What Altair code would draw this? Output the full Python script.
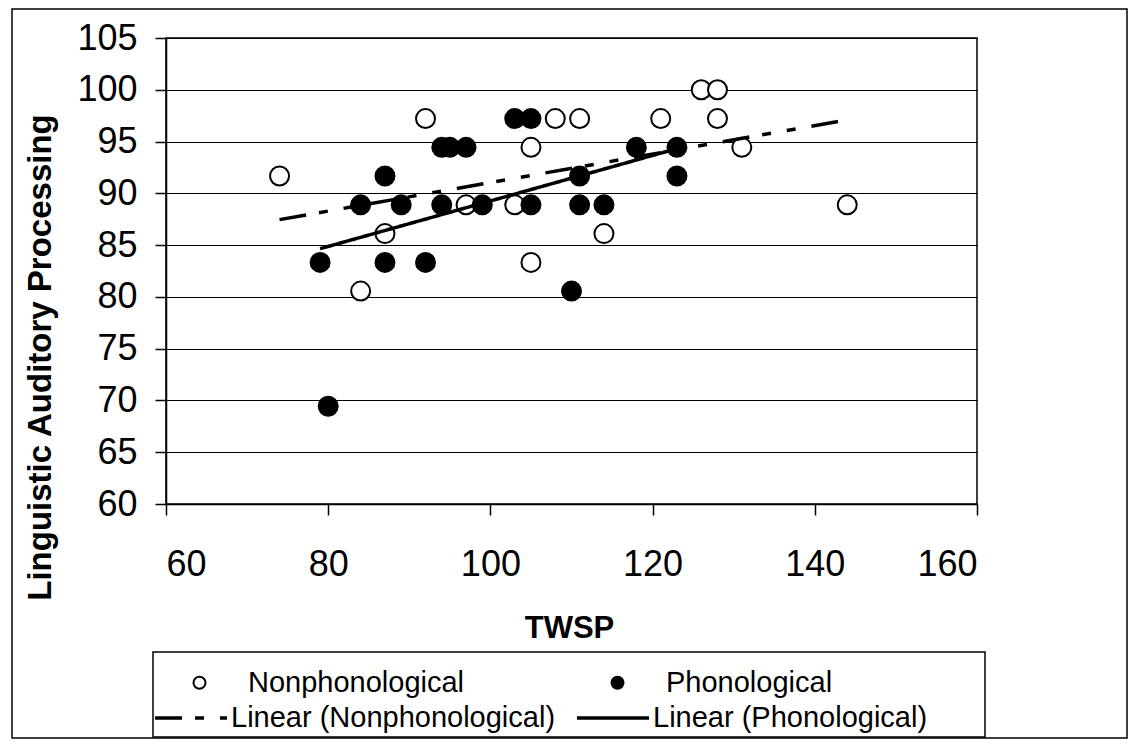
import altair as alt
import pandas as pd

# ---- data ----
nonphon_x = [74, 92, 108, 111, 105, 97, 103, 87, 105, 84, 126, 128, 121, 128, 131, 114, 144]
nonphon_y = [91.67, 97.22, 97.22, 97.22, 94.44, 88.89, 88.89, 86.11, 83.33, 80.56,
             100.0, 100.0, 97.22, 97.22, 94.44, 86.11, 88.89]

phon_x = [103, 105, 94, 95, 97, 87, 84, 89, 94, 99, 105, 111, 114, 79, 87, 92, 110, 80,
          118, 123, 111, 123]
phon_y = [97.22, 97.22, 94.44, 94.44, 94.44, 91.67, 88.89, 88.89, 88.89, 88.89, 88.89,
          88.89, 88.89, 83.33, 83.33, 83.33, 80.56, 69.44, 94.44, 94.44, 91.67, 91.67]

group_names = ["Nonphonological", "Phonological"]
fit_names = ["Linear (Nonphonological)", "Linear (Phonological)"]
x_ticks = [60, 80, 100, 120, 140, 160]
y_ticks = [60, 65, 70, 75, 80, 85, 90, 95, 100, 105]

df = pd.DataFrame({
    "TWSP": nonphon_x + phon_x,
    "LAP": nonphon_y + phon_y,
    "series": ["Nonphonological"] * len(nonphon_x) + ["Phonological"] * len(phon_x),
})

FONT = "Liberation Sans"
W, H = 811, 466

x_enc = alt.X("TWSP:Q",
              scale=alt.Scale(domain=[60, 160], nice=False, zero=False),
              axis=alt.Axis(values=x_ticks, grid=False, title="TWSP",
                            titleX=403, titleY=133, titleAlign="center",
                            titleBaseline="alphabetic", titleFontSize=31,
                            titleFontWeight="bold", labelFontSize=36,
                            labelBaseline="alphabetic", labelPadding=60,
                            tickSize=11))
y_enc = alt.Y("LAP:Q",
              scale=alt.Scale(domain=[60, 105], nice=False, zero=False),
              axis=alt.Axis(values=y_ticks, grid=True, title="Linguistic Auditory Processing",
                            titleX=-116, titleY=319, titleAngle=-90, titleAlign="center",
                            titleBaseline="alphabetic", titleFontSize=33,
                            titleFontWeight="bold", labelFontSize=36,
                            labelPadding=18, tickSize=11))

points = alt.Chart(df).mark_point(
    shape="circle", filled=False, color="black", strokeWidth=2, opacity=1, size=361
).encode(
    x=x_enc,
    y=y_enc,
    fill=alt.Fill("series:N",
                  scale=alt.Scale(domain=group_names, range=["white", "black"]),
                  legend=alt.Legend(title=None, orient="none", direction="horizontal",
                                    legendX=19, legendY=630, columnPadding=138,
                                    padding=0, symbolType="circle", symbolSize=144,
                                    symbolStrokeColor="black", symbolStrokeWidth=2,
                                    symbolOpacity=1, labelOffset=34,
                                    labelFontSize=29, labelFont=FONT, labelColor="black",
                                    labelLimit=0)),
)

fits = alt.Chart(df).transform_regression(
    "TWSP", "LAP", groupby=["series"]
).transform_calculate(
    fit="'Linear (' + datum.series + ')'"
).mark_line(color="black", strokeWidth=3.5).encode(
    x="TWSP:Q",
    y="LAP:Q",
    strokeDash=alt.StrokeDash(
        "fit:N",
        scale=alt.Scale(domain=fit_names, range=[[27, 13, 9, 16, 9, 16], [1, 0]]),
        legend=alt.Legend(title=None, orient="none", direction="horizontal",
                          legendX=-13, legendY=642, columnPadding=14,
                          padding=0, symbolSize=5184, symbolStrokeWidth=3.5,
                          symbolStrokeColor="black", symbolOpacity=1, labelOffset=2,
                          labelFontSize=29, labelFont=FONT, labelColor="black",
                          labelLimit=0)),
)

one = alt.Data(values=[{}])
outer_frame = alt.Chart(one).mark_rect(fill="transparent", stroke="black", strokeWidth=1.5).encode(
    x=alt.value(-154), x2=alt.value(961), y=alt.value(-29), y2=alt.value(700))
legend_frame = alt.Chart(one).mark_rect(fill="transparent", stroke="black", strokeWidth=1.5).encode(
    x=alt.value(-13), x2=alt.value(819), y=alt.value(614), y2=alt.value(699))

chart = alt.layer(outer_frame, legend_frame, points, fits).resolve_legend(
    fill="independent", strokeDash="independent"
).properties(
    width=W, height=H,
    autosize=alt.AutoSizeParams(type="none"),
    padding={"left": 158, "top": 30, "right": 151, "bottom": 235},
    background="white",
).configure_view(
    stroke="black", strokeWidth=1.5
).configure_axis(
    domainColor="black", domainWidth=1.5, tickColor="black", tickWidth=1.5,
    gridColor="black", gridWidth=1.2, gridOpacity=1,
    labelColor="black", titleColor="black", labelFont=FONT, titleFont=FONT,
).configure_legend(
    labelFont=FONT
)

chart.save("out.html", embed_options={"renderer": "svg", "actions": False})
